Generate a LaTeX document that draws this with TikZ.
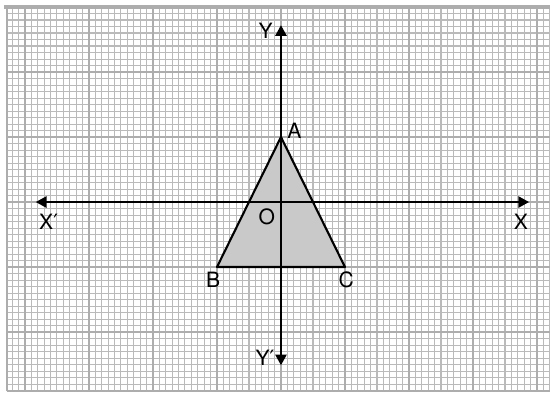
\documentclass[tikz,border=0pt]{standalone}
\usepackage{fontspec}
\setmainfont{TeX Gyre Heros}
\newfontfamily\primefont{DejaVu Sans}
\newcommand{\pr}{{\primefont ′}}
\usetikzlibrary{arrows.meta}

\begin{document}
\begin{tikzpicture}[x=1.92cm,y=1.95cm]
\tikzset{
  minorgrid/.style={draw=black!27,line width=0.9pt},
  majorgrid/.style={draw=black!32,line width=2pt},
  axis/.style={{Triangle[length=3.2mm,width=3.4mm]}-{Triangle[length=3.2mm,width=3.4mm]},line width=1.4pt},
  shaded/.style={fill=black!21},
  edge/.style={line width=1.8pt,line join=round},
  lbl/.style={inner sep=0pt,font=\fontsize{18}{20}\selectfont}
}
\useasboundingbox[fill=white] (-4.39,-2.938) rectangle (4.203,3.108);
% graph paper
\begin{scope}
\clip (-4.28,-2.908) rectangle (4.203,3.0);
\foreach \i in {-43,...,43}
  \draw[minorgrid] (\i/10,-2.95) -- (\i/10,3.05);
\foreach \j in {-29,...,30}
  \draw[minorgrid] (-4.35,\j/10) -- (4.25,\j/10);
\foreach \i in {-4,...,4}
  \draw[majorgrid] (\i,-2.95) -- (\i,3.05);
\foreach \j in {-2,...,3}
  \draw[majorgrid] (-4.35,\j) -- (4.25,\j);
\end{scope}
\draw[majorgrid] (-4.28,-2.908) -- (-4.28,3.0);
\draw[majorgrid] (-4.28,-2.908) -- (4.25,-2.908);
\draw[majorgrid,line width=2.6pt] (-4.32,3.0) -- (4.25,3.0);
% triangle ABC
\coordinate (p_A) at (0,1);
\coordinate (p_B) at (-1,-1);
\coordinate (p_C) at (1,-1);
\fill[shaded] (p_A) -- (p_B) -- (p_C) -- cycle;
% axes
\coordinate (ax_xl) at (-3.83,0);
\coordinate (ax_xr) at (3.875,0);
\coordinate (ax_yt) at (0,2.72);
\coordinate (ax_yb) at (0,-2.51);
\draw[axis] (ax_xl) -- (ax_xr);
\draw[axis] (ax_yb) -- (ax_yt);
\draw[edge] (p_A) -- (p_B) -- (p_C) -- cycle;
% labels
\node[lbl] (n_A) at (0.21,1.09) {A};
\node[lbl] (n_B) at (-1.06,-1.19) {B};
\node[lbl] (n_C) at (1.02,-1.19) {C};
\node[lbl] (n_O) at (-0.22,-0.22) {O};
\node[lbl] (n_X) at (3.75,-0.31) {X};
\node[lbl] (n_Xp) at (-3.63,-0.31) {X\pr};
\node[lbl] (n_Y) at (-0.24,2.63) {Y};
\node[lbl] (n_Yp) at (-0.25,-2.40) {Y\pr};
\end{tikzpicture}
\end{document}
